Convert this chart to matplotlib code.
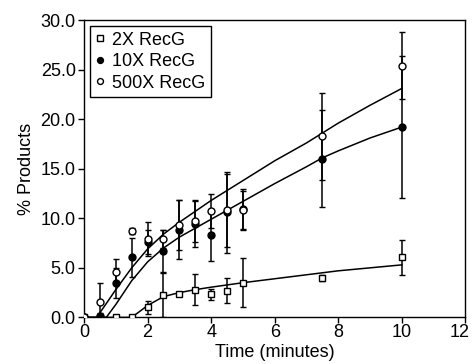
import numpy as np
import matplotlib
matplotlib.use("Agg")
import matplotlib.pyplot as plt
import matplotlib.transforms as mtransforms

plt.rcParams["font.family"] = ["Liberation Sans", "DejaVu Sans"]

# measured points
time = [0, 0.5, 1, 1.5, 2, 2.5, 3, 3.5, 4, 4.5, 5, 7.5, 10]

recg2 = [0, 0, 0, 0, 1.0, 2.25, 2.4, 2.8, 2.35, 2.7, 3.5, 4.0, 6.05]
recg2_err = [0, 0, 0, 0, 0.7, 2.2, 0.2, 1.55, 0.55, 1.25, 2.5, 0.3, 1.8]

recg10 = [0, 0.1, 3.45, 6.05, 7.6, 6.7, 8.85, 9.4, 8.3, 10.6, 10.95, 16.0, 19.2]
recg10_err = [0, 0.3, 1.5, 2.0, 1.2, 2.15, 3.0, 2.3, 2.65, 4.1, 2.0, 4.9, 7.2]

recg500 = [0, 1.6, 4.6, 8.7, 7.9, 7.9, 9.35, 9.7, 10.7, 10.8, 10.8, 18.25, 25.4]
recg500_err = [0, 1.9, 1.3, 0.3, 1.7, 0.9, 2.5, 2.1, 1.7, 3.7, 2.0, 4.35, 3.4]

# fitted curves
fit2_t = [0, 1.5, 2.0, 2.5, 3.0, 3.5, 4.0, 5.0, 6.0, 7.0, 7.5, 8.0, 9.0, 10.0]
fit2_y = [0, 0, 1.2, 2.1, 2.5, 2.8, 3.05, 3.5, 3.9, 4.3, 4.5, 4.7, 5.0, 5.3]

fit10_t = [0, 0.7, 1.0, 1.5, 2.0, 2.5, 3.0, 3.5, 4.0, 5.0, 6.0, 7.0, 7.5, 8.0, 9.0, 10.0]
fit10_y = [0, 0, 1.3, 3.7, 5.6, 7.0, 8.1, 9.0, 9.9, 11.7, 13.5, 15.2, 16.1, 16.8, 18.1, 19.2]

fit500_t = [0, 0.4, 1.0, 1.5, 2.0, 2.5, 3.0, 3.5, 4.0, 5.0, 6.0, 7.0, 7.5, 8.0, 9.0, 10.0]
fit500_y = [0, 0, 2.8, 5.0, 6.9, 8.4, 9.6, 10.7, 11.8, 13.8, 15.8, 17.6, 18.6, 19.6, 21.4, 23.1]

fig = plt.figure(figsize=(4.72, 3.64), dpi=100)
ax = fig.add_axes([0.178, 0.128, 0.808, 0.817])

for t, y in [(fit2_t, fit2_y), (fit10_t, fit10_y), (fit500_t, fit500_y)]:
    ax.plot(t, y, color="black", lw=1.1, zorder=2)

kw = dict(color="black", ecolor="black", elinewidth=1.1, capsize=2.5, capthick=1.1,
          markersize=5, markeredgewidth=1.0, linestyle="none", zorder=3)
ax.errorbar(time, recg2, yerr=recg2_err, marker="s", markerfacecolor="white",
            label="2X RecG", **kw)
ax.errorbar(time, recg10, yerr=recg10_err, marker="o", markerfacecolor="black",
            label="10X RecG", **kw)
ax.errorbar(time, recg500, yerr=recg500_err, marker="o", markerfacecolor="white",
            label="500X RecG", **kw)

ax.set_xlim(0, 12)
ax.set_ylim(0, 30)
ax.set_xticks(range(0, 13, 2))
ax.set_yticks(np.arange(0, 31, 5))
ax.set_yticklabels([f"{v:.1f}" for v in np.arange(0, 31, 5)])
ax.tick_params(direction="out", length=4, width=1.0, labelsize=13, pad=2)
ax.tick_params(axis="x", pad=1)
for s in ax.spines.values():
    s.set_linewidth(1.0)

# last x label sits at the figure edge, nudge it in a little
fig.canvas.draw()
last = ax.get_xticklabels()[-1]
last.set_transform(last.get_transform()
                   + mtransforms.ScaledTranslation(-4 / 72, 0, fig.dpi_scale_trans))

ax.set_xlabel("Time (minutes)", fontsize=13, labelpad=2)
ax.set_ylabel("% Products", fontsize=13, labelpad=4)

handles, labels = ax.get_legend_handles_labels()
handles = [h[0] for h in handles]
leg = ax.legend(handles, labels, loc="upper left", fontsize=13, fancybox=False,
                edgecolor="black", framealpha=1, handlelength=0.5, handletextpad=0.4,
                borderpad=0.3, labelspacing=0.25, borderaxespad=0.35, markerscale=0.85)
leg.get_frame().set_linewidth(1.0)

fig.savefig("out.png", dpi=100)
